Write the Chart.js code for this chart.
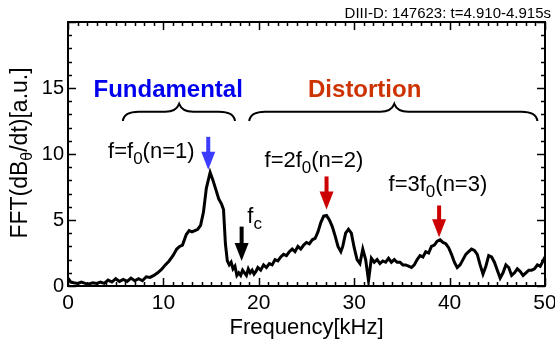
<!DOCTYPE html>
<html>
<head>
<meta charset="utf-8">
<script src="https://cdn.jsdelivr.net/npm/chart.js@4.4.1/dist/chart.umd.min.js"></script>
<style>
  html, body { margin: 0; padding: 0; background: #fff; }
  #wrap { width: 555px; height: 343px; position: relative; }
</style>
</head>
<body>
<div id="wrap"><canvas id="fft"></canvas></div>
<script>
// spectrum (kHz, a.u.)
var freq = [0.0, 0.3, 0.6, 1.0, 1.4, 1.8, 2.2, 2.6, 3.0, 3.4, 3.8, 4.2, 4.6, 5.0, 5.4, 5.8, 6.2, 6.6, 7.0, 7.4,
  7.8, 8.2, 8.6, 9.0, 9.4, 9.8, 10.2, 10.6, 11.0, 11.4, 11.7, 12.0, 12.4, 12.7, 13.0, 13.3, 13.6, 13.9, 14.2, 14.5,
  14.9, 15.2, 15.5, 15.8, 16.1, 16.3, 16.5, 16.7, 16.9, 17.1, 17.3, 17.5, 17.7, 17.9, 18.1, 18.3, 18.5, 18.7, 18.9, 19.1,
  19.3, 19.5, 19.7, 19.9, 20.2, 20.5, 20.8, 21.1, 21.4, 21.7, 22.0, 22.3, 22.6, 22.9, 23.2, 23.5, 23.8, 24.1, 24.4, 24.7,
  25.0, 25.3, 25.6, 25.9, 26.2, 26.5, 26.8, 27.1, 27.4, 27.7, 28.0, 28.3, 28.6, 28.8, 29.1, 29.4, 29.7, 30.0, 30.3, 30.6,
  30.9, 31.2, 31.5, 31.8, 32.1, 32.4, 32.7, 33.0, 33.3, 33.6, 33.9, 34.2, 34.5, 34.8, 35.1, 35.4, 35.7, 36.0, 36.3, 36.6,
  36.9, 37.2, 37.5, 37.8, 38.1, 38.4, 38.7, 39.0, 39.3, 39.6, 39.9, 40.2, 40.5, 40.8, 41.1, 41.4, 41.7, 42.0, 42.3, 42.6,
  42.9, 43.2, 43.5, 43.8, 44.1, 44.4, 44.7, 45.0, 45.3, 45.6, 45.9, 46.2, 46.5, 46.8, 47.1, 47.4, 47.7, 48.0, 48.3, 48.6,
  48.9, 49.2, 49.5, 49.8, 50.0];
var amp = [0.6, 0.3, 0.25, 0.2, 0.3, 0.2, 0.15, 0.25, 0.2, 0.3, 0.2, 0.45, 0.3, 0.55, 0.35, 0.5, 0.35, 0.6, 0.4, 0.55,
  0.4, 0.7, 0.65, 0.8, 1.0, 1.25, 1.6, 1.9, 2.3, 2.8, 3.0, 3.1, 3.9, 4.2, 4.1, 4.2, 4.3, 4.6, 5.6, 7.4,
  8.6, 8.0, 7.3, 6.6, 6.2, 5.8, 3.2, 1.9, 1.6, 1.8, 1.3, 1.5, 0.8, 1.0, 0.8, 1.2, 1.0, 0.8, 1.3, 1.0,
  1.2, 0.9, 1.1, 1.4, 1.2, 1.6, 1.4, 1.7, 1.6, 2.0, 1.9, 2.2, 2.4, 2.3, 2.6, 2.8, 2.6, 3.0, 2.8, 3.1,
  3.3, 3.2, 3.5, 3.6, 4.1, 4.8, 5.3, 5.35, 5.0, 4.5, 3.8, 3.0, 2.6, 3.0, 4.0, 4.3, 4.0, 2.9, 2.0, 1.7,
  2.8, 2.0, 0.4, 2.1, 1.8, 2.0, 1.7, 1.9, 1.8, 2.1, 1.8, 2.0, 1.8, 1.8, 1.6, 1.6, 1.5, 1.4, 1.6, 2.0,
  2.3, 2.2, 2.6, 2.5, 3.0, 3.1, 3.4, 3.5, 3.3, 3.2, 2.9, 2.4, 1.8, 1.4, 1.6, 2.0, 2.4, 2.6, 2.8, 2.7,
  2.4, 1.6, 0.9, 1.5, 2.3, 2.2, 1.8, 1.2, 0.6, 1.0, 1.6, 1.4, 0.8, 1.0, 1.3, 1.1, 0.8, 1.0, 1.2, 1.2,
  1.3, 1.6, 1.5, 1.9, 2.2];

var xTicks = [0, 10, 20, 30, 40, 50];
var yTicks = [0, 5, 10, 15];
var topTitle = 'DIII-D: 147623: t=4.910-4.915s';
var xLabel = 'Frequency[kHz]';

// annotations, placed in data units
var arrows = [
  { x: 14.7, from: 11.3, to: 8.8, color: '#3c3cff' },
  { x: 18.2, from: 4.5, to: 1.9, color: '#000000' },
  { x: 27.1, from: 8.3, to: 5.8, color: '#cc0000' },
  { x: 38.9, from: 6.1, to: 3.7, color: '#cc0000' }
];
var braces = [
  { x1: 5.75, x2: 17.5, mid: 11.65, tip: 13.8, line: 13.2, end: 12.5 },
  { x1: 19.0, x2: 49.2, mid: 34.2, tip: 13.8, line: 13.2, end: 12.5 }
];
var headings = [
  { text: 'Fundamental', x: 10.5, y: 14.3, color: '#0000ee' },
  { text: 'Distortion', x: 31.1, y: 14.3, color: '#cc3300' }
];
var notes = [
  { x: 4.2, y: 9.7, parts: [['f=f'], ['0', 1], ['(n=1)']] },
  { x: 20.6, y: 9.0, parts: [['f=2f'], ['0', 1], ['(n=2)']] },
  { x: 33.6, y: 7.2, parts: [['f=3f'], ['0', 1], ['(n=3)']] },
  { x: 18.8, y: 4.75, parts: [['f'], ['c', 1]] }
];

var FAM = "'Liberation Sans', Arial, Helvetica, sans-serif";
Chart.defaults.font.family = FAM;
Chart.defaults.color = '#000';

function drawParts(c, x, y, parts, mainFont, subFont, subDrop, centered) {
  var w = 0;
  parts.forEach(function (p) { c.font = p[1] ? subFont : mainFont; w += c.measureText(p[0]).width; });
  var cx = centered ? x - w / 2 : x;
  c.textAlign = 'left';
  c.textBaseline = 'alphabetic';
  parts.forEach(function (p) {
    c.font = p[1] ? subFont : mainFont;
    c.fillText(p[0], cx, y + (p[1] ? subDrop : 0));
    cx += c.measureText(p[0]).width;
  });
}

var decor = {
  id: 'decor',
  afterDraw: function (chart) {
    var c = chart.ctx, a = chart.chartArea, xs = chart.scales.x, ys = chart.scales.y;
    c.save();
    c.strokeStyle = '#000';
    c.lineWidth = 2;
    c.strokeRect(a.left, a.top, a.right - a.left, a.bottom - a.top);

    // inward ticks on all four sides
    c.lineWidth = 1.5;
    c.beginPath();
    var v, p, len;
    for (v = 0; v <= 50; v++) {
      p = Math.round(xs.getPixelForValue(v)) + 0.5;
      len = v % 10 === 0 ? 8 : 4;
      c.moveTo(p, a.bottom); c.lineTo(p, a.bottom - len);
      c.moveTo(p, a.top); c.lineTo(p, a.top + len);
    }
    for (v = 0; v <= 20; v++) {
      p = Math.round(ys.getPixelForValue(v)) + 0.5;
      len = v % 5 === 0 ? 8 : 4;
      c.moveTo(a.left, p); c.lineTo(a.left + len, p);
      c.moveTo(a.right, p); c.lineTo(a.right - len, p);
    }
    c.stroke();

    // braces
    c.lineWidth = 2;
    braces.forEach(function (b) {
      var x1 = xs.getPixelForValue(b.x1), x2 = xs.getPixelForValue(b.x2), xm = xs.getPixelForValue(b.mid);
      var yT = ys.getPixelForValue(b.tip), yL = ys.getPixelForValue(b.line), yE = ys.getPixelForValue(b.end);
      c.beginPath();
      c.moveTo(x1, yE);
      c.quadraticCurveTo(x1 + 1, yL, x1 + 16, yL);
      c.lineTo(xm - 14, yL);
      c.quadraticCurveTo(xm - 3, yL, xm, yT);
      c.quadraticCurveTo(xm + 3, yL, xm + 14, yL);
      c.lineTo(x2 - 16, yL);
      c.quadraticCurveTo(x2 - 1, yL, x2, yE);
      c.stroke();
    });

    // arrows
    arrows.forEach(function (ar) {
      var px = xs.getPixelForValue(ar.x), y0 = ys.getPixelForValue(ar.from), y1 = ys.getPixelForValue(ar.to);
      c.fillStyle = ar.color;
      c.fillRect(px - 2, y0, 4, y1 - 16 - y0);
      c.beginPath();
      c.moveTo(px - 7, y1 - 18);
      c.lineTo(px + 7, y1 - 18);
      c.lineTo(px, y1);
      c.closePath();
      c.fill();
    });

    // headings
    c.font = 'bold 24px ' + FAM;
    c.textAlign = 'center';
    c.textBaseline = 'alphabetic';
    headings.forEach(function (h) {
      c.fillStyle = h.color;
      c.fillText(h.text, xs.getPixelForValue(h.x), ys.getPixelForValue(h.y));
    });

    // peak notes
    c.fillStyle = '#000';
    notes.forEach(function (n) {
      drawParts(c, xs.getPixelForValue(n.x), ys.getPixelForValue(n.y), n.parts,
        '22px ' + FAM, '17px ' + FAM, 6, false);
    });

    // y axis label with subscript theta
    c.save();
    c.translate(27, 153);
    c.rotate(-Math.PI / 2);
    drawParts(c, 0, 0, [['FFT(dB'], ['\u03b8', 1], ['/dt)[a.u.]']], '23px ' + FAM, '16px ' + FAM, 5, true);
    c.restore();

    // shot title
    c.font = '15px ' + FAM;
    c.textAlign = 'right';
    c.fillText(topTitle, 551, 18);
    c.restore();
  }
};

new Chart(document.getElementById('fft'), {
  type: 'line',
  data: {
    datasets: [{
      data: freq.map(function (f, i) { return { x: f, y: amp[i] }; }),
      borderColor: '#000',
      borderWidth: 3,
      pointRadius: 0,
      tension: 0,
      fill: false
    }]
  },
  options: {
    responsive: true,
    maintainAspectRatio: false,
    animation: false,
    layout: { padding: { top: 22, right: 10, left: 0, bottom: 0 } },
    plugins: { legend: { display: false }, tooltip: { enabled: false } },
    scales: {
      x: {
        type: 'linear', min: 0, max: 50,
        grid: { display: false, drawTicks: false },
        border: { display: false },
        afterBuildTicks: function (s) { s.ticks = xTicks.map(function (v) { return { value: v }; }); },
        ticks: { font: { size: 21 }, color: '#000', padding: 5, maxRotation: 0 },
        title: { display: true, text: xLabel, font: { size: 22 }, color: '#000', padding: { top: 0, bottom: 2 } },
        afterFit: function (s) { s.height = 57; s.paddingLeft = 0; s.paddingRight = 0; }
      },
      y: {
        min: 0, max: 20,
        grid: { display: false, drawTicks: false },
        border: { display: false },
        afterBuildTicks: function (s) { s.ticks = yTicks.map(function (v) { return { value: v }; }); },
        ticks: { font: { size: 20 }, color: '#000', padding: 4 },
        afterFit: function (s) { s.width = 68; s.paddingTop = 0; s.paddingBottom = 0; }
      }
    }
  },
  plugins: [decor]
});
</script>
</body>
</html>
